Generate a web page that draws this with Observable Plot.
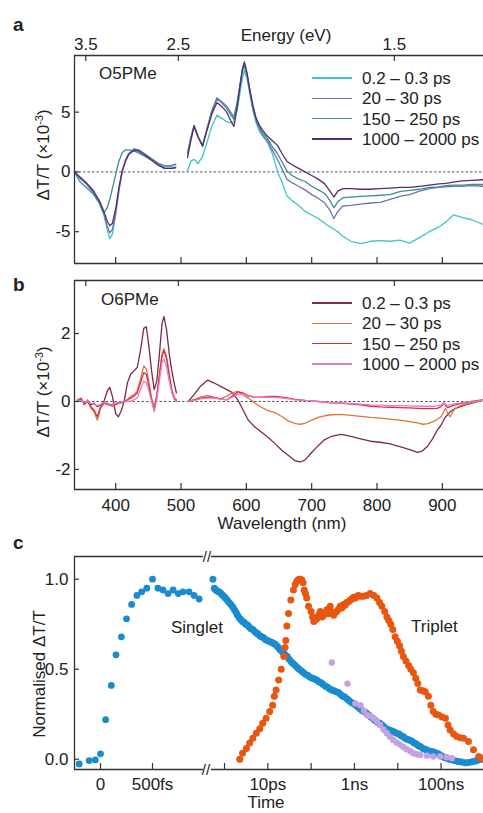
<!DOCTYPE html>
<html><head><meta charset="utf-8">
<script src="https://cdn.jsdelivr.net/npm/d3@7"></script>
<script src="https://cdn.jsdelivr.net/npm/@observablehq/plot@0.6"></script>
<style>
html,body{margin:0;padding:0;background:#fff;}
#root{position:relative;width:483px;height:813px;overflow:hidden;font-family:"Liberation Sans",Arial,Helvetica,sans-serif;color:#222;}
.abs{position:absolute;white-space:nowrap;line-height:1;}
.plot{position:absolute;}
</style></head><body><div id="root"></div>
<script>
// ---------------- DATA ----------------
const hc = 1239.84;
const energyTicks = [3.5, 2.5, 1.5];
const waveTicks = [400, 500, 600, 700, 800, 900];
const yTicksA = [-5, 0, 5];
const yTicksB = [-2, 0, 2];
const yTicksC = [0, 0.5, 1];
const fsTicks = [0, 500];
const fsTickLabels = ["0", "500fs"];
const logTicks = [1, 10, 100, 1000, 10000, 100000];
const logLabelTicks = [10, 1000, 100000];
const logTickLabels = ["10ps", "1ns", "100ns"];

// Panel a (O5PMe)
const seriesA = ["0.2 – 0.3 ps", "20 – 30 ps", "150 – 250 ps", "1000 – 2000 ps"];
const colorsA = ["#3fc6c6", "#6b74b4", "#3d8d94", "#5a2b6f"];
const waveA = [337,345,355,365,375,382,387,391,395,400,405,410,415,420,428,435,445,455,465,475,485,492,
  500,
  510,515,520,526,533,540,547,555,562,570,576,581,586,590,594,597,601,605,610,615,620,625,632,640,648,655,662,670,680,690,700,710,720,728,734,740,748,760,775,790,805,820,835,850,865,880,895,905,917,930,945,963];
const a_02ps = [0,-0.5,-1.0,-1.7,-2.6,-3.6,-4.8,-5.6,-5.2,-3.6,-1.6,0.0,0.9,1.5,1.95,1.85,1.5,1.1,0.7,0.45,0.45,0.6,
  null,
  0.1,0.9,1.05,0.7,1.3,2.5,3.8,4.75,4.5,4.2,4.1,4.2,5.2,6.5,7.8,8.5,7.8,6.6,5.2,4.1,3.4,3.0,2.5,1.5,0.0,-0.9,-2.0,-2.4,-2.8,-3.3,-3.6,-3.9,-4.3,-4.6,-4.8,-5.0,-5.4,-5.8,-6.0,-5.8,-5.75,-5.8,-5.7,-5.95,-5.5,-5.0,-4.6,-4.2,-3.6,-3.8,-4.0,-4.4];
const a_20ps = [0,-0.5,-1.0,-1.6,-2.5,-3.5,-4.5,-5.1,-4.8,-3.4,-1.5,0.05,1.0,1.55,1.9,1.85,1.5,1.1,0.75,0.5,0.55,0.65,
  null,
  1.5,2.8,3.9,3.0,2.1,3.6,5.1,6.2,5.9,5.5,5.0,4.6,5.8,7.2,8.6,9.1,8.2,6.9,5.3,4.3,3.6,3.1,2.6,1.8,1.0,0.2,-0.6,-0.9,-1.2,-1.5,-1.9,-2.2,-2.6,-3.2,-3.9,-3.3,-2.85,-2.8,-2.7,-2.6,-2.55,-2.3,-2.05,-1.9,-1.6,-1.4,-1.3,-1.25,-1.2,-1.2,-1.15,-1.2];
const a_150ps = [0,-0.8,-1.3,-1.8,-2.6,-3.4,-3.0,-2.3,-1.4,-0.2,0.9,1.6,1.85,1.85,1.75,1.6,1.3,0.95,0.55,0.3,0.3,0.4,
  null,
  1.6,2.9,3.9,3.0,2.2,3.7,5.0,6.1,5.8,5.3,4.8,4.4,5.8,7.1,8.4,8.9,8.1,6.9,5.3,4.4,3.8,3.3,2.8,2.1,1.5,0.8,0.1,-0.3,-0.6,-0.8,-1.2,-1.5,-1.8,-2.4,-3.0,-2.5,-2.15,-2.1,-2.05,-2.0,-1.95,-1.9,-1.65,-1.55,-1.45,-1.3,-1.25,-1.15,-1.1,-1.1,-1.05,-1.05];
const a_1000ps = [0,-0.4,-0.9,-1.5,-2.4,-3.3,-4.1,-4.5,-4.3,-3.1,-1.3,0.1,0.9,1.45,1.8,1.75,1.4,1.0,0.6,0.3,0.3,0.35,
  null,
  1.2,2.6,3.8,2.9,2.2,3.5,4.8,5.8,5.5,5.0,4.3,3.8,5.4,7.1,8.6,9.2,8.3,7.0,5.6,4.5,3.9,3.5,3.0,2.6,2.2,1.5,0.9,0.6,0.3,0.0,-0.3,-0.6,-1.0,-1.6,-2.1,-1.6,-1.4,-1.4,-1.45,-1.45,-1.4,-1.35,-1.3,-1.3,-1.2,-1.1,-1.0,-0.95,-0.85,-0.75,-0.7,-0.65];

// Panel b (O6PMe)
const seriesB = ["0.2 – 0.3 ps", "20 – 30 ps", "150 – 250 ps", "1000 – 2000 ps"];
const colorsB = ["#7c2a4c", "#d9773a", "#e22c3d", "#e47ccc"];
const waveB = [341,347,352,357,362,367,372,377,382,387,391,395,400,404,408,413,418,423,428,433,438,443,447,451,455,459,463,467,471,474,478,482,486,490,493,
  502,
  511,520,530,541,550,560,570,578,587,595,603,613,623,633,644,655,665,675,683,690,700,710,720,730,745,760,775,790,805,820,835,850,862,870,878,885,892,898,902,905,908,912,916,920,928,935,945,955,963];
const b_02ps = [0,0.05,-0.05,0.0,-0.1,-0.05,-0.15,-0.1,0.0,0.3,0.42,0.15,-0.35,-0.45,-0.3,0.0,0.55,0.8,0.9,1.0,1.5,2.15,2.2,1.6,0.9,0.35,0.6,1.4,2.3,2.5,2.1,1.4,0.9,0.5,0.25,
  null,
  0,0.2,0.45,0.63,0.55,0.45,0.35,0.27,0.05,-0.25,-0.55,-0.75,-0.9,-1.05,-1.24,-1.45,-1.6,-1.75,-1.78,-1.72,-1.5,-1.3,-1.12,-1.03,-0.97,-1.03,-1.1,-1.17,-1.2,-1.25,-1.33,-1.42,-1.5,-1.45,-1.3,-1.1,-0.85,-0.7,-0.55,-0.45,-0.4,-0.3,-0.25,-0.2,-0.15,-0.1,-0.05,0.0,0.05];
const b_20ps = [0.05,0.1,-0.1,0.05,-0.2,-0.3,-0.55,-0.2,-0.05,-0.1,-0.1,-0.15,-0.1,-0.05,-0.05,0.0,0.05,0.15,0.2,0.3,0.65,1.05,0.95,0.55,0.1,-0.15,0.2,0.8,1.4,1.55,1.3,0.8,0.35,0.1,0.05,
  null,
  0,0.05,0.13,0.18,0.12,0.08,0.15,0.25,0.3,0.2,0.1,-0.05,-0.17,-0.27,-0.33,-0.45,-0.58,-0.65,-0.67,-0.64,-0.55,-0.47,-0.42,-0.39,-0.38,-0.41,-0.44,-0.47,-0.49,-0.52,-0.55,-0.59,-0.63,-0.67,-0.65,-0.6,-0.53,-0.45,-0.3,-0.2,-0.35,-0.45,-0.3,-0.2,-0.12,-0.08,-0.03,0.0,0.05];
const b_150ps = [0.0,0.08,-0.08,0.0,-0.15,-0.25,-0.45,-0.15,-0.05,-0.05,-0.1,-0.1,-0.08,-0.05,-0.03,0.0,0.05,0.1,0.15,0.25,0.55,0.85,0.8,0.45,0.05,-0.25,0.15,0.75,1.35,1.5,1.25,0.75,0.3,0.08,0.03,
  null,
  0,0.05,0.1,0.13,0.12,0.08,0.05,0.15,0.28,0.25,0.17,0.13,0.13,0.15,0.15,0.13,0.1,0.06,0.05,0.03,0.02,0.0,-0.02,-0.04,-0.05,-0.08,-0.1,-0.14,-0.16,-0.17,-0.18,-0.19,-0.2,-0.21,-0.21,-0.21,-0.2,-0.15,-0.05,-0.12,-0.18,-0.15,-0.12,-0.1,-0.06,-0.03,0.0,0.03,0.05];
const b_1000ps = [0.0,0.03,-0.03,0.0,-0.05,-0.08,-0.12,-0.08,-0.03,-0.05,-0.08,-0.08,-0.05,-0.03,-0.02,0.0,0.0,0.02,0.05,0.1,0.35,0.6,0.55,0.3,0.0,-0.3,0.05,0.6,1.15,1.25,1.0,0.6,0.25,0.05,0.0,
  null,
  0,0.03,0.08,0.1,0.1,0.07,0.05,0.12,0.22,0.2,0.15,0.12,0.12,0.13,0.12,0.1,0.08,0.05,0.04,0.03,0.02,0.0,-0.02,-0.03,-0.04,-0.06,-0.08,-0.1,-0.11,-0.12,-0.12,-0.13,-0.14,-0.14,-0.14,-0.14,-0.13,-0.1,-0.04,-0.08,-0.12,-0.1,-0.08,-0.06,-0.04,-0.02,0.0,0.02,0.04];

// Panel c kinetics
const singletFs  = [-205,-110,-50,0,49,104,149,201,250,299,350,396,445,500,552,601,649,698,747,792,851,899,948];
const singletFsV = [-0.026,-0.008,-0.004,0.03,0.22,0.41,0.58,0.68,0.78,0.86,0.91,0.93,0.95,1.0,0.95,0.94,0.92,0.94,0.92,0.93,0.93,0.91,0.89];
const singletPs = [0.54,0.58,0.63,0.68,0.74,0.8,0.87,0.95,1.05,1.15,1.27,1.4,1.55,1.7,1.85,2.0,2.2,2.4,2.6,2.85,3.1,3.4,3.7,4.1,4.5,5.0,5.5,6.0,6.6,7.2,8.0,8.8,9.7,10.7,12,13,14.5,16,17.5,19,21,23,25,28,31,35,39,43,48,53,60,67,75,85,95,108,120,135,150,170,190,215,240,270,300,340,380,430,480,540,600,680,760,850,950,1070,1200,1350,1500,1700,1900,2150,2400,2700,3000,3400,3800,4300,4800,5400,6000,6800,7600,8500,9500,10700,12000,13500,15000,17000,19000,21500,24000,27000,30000,34000,38000,43000,48000,54000,60000,68000,76000,85000,95000,107000,120000,135000,155000,180000,210000,250000,300000,360000,430000,520000,620000,740000,870000];
const singletPsV = [1.0,0.95,0.94,0.935,0.93,0.925,0.915,0.905,0.895,0.885,0.87,0.86,0.845,0.83,0.815,0.8,0.785,0.775,0.765,0.76,0.75,0.745,0.735,0.725,0.72,0.71,0.7,0.695,0.685,0.68,0.675,0.665,0.66,0.655,0.65,0.645,0.64,0.63,0.62,0.61,0.6,0.59,0.58,0.57,0.555,0.54,0.53,0.52,0.51,0.5,0.49,0.48,0.47,0.465,0.455,0.45,0.445,0.44,0.43,0.425,0.415,0.405,0.4,0.39,0.385,0.38,0.375,0.37,0.36,0.35,0.345,0.335,0.325,0.315,0.31,0.3,0.29,0.28,0.27,0.265,0.255,0.245,0.235,0.225,0.215,0.205,0.2,0.19,0.18,0.17,0.165,0.16,0.155,0.15,0.145,0.14,0.13,0.125,0.115,0.11,0.105,0.1,0.09,0.085,0.075,0.07,0.06,0.055,0.05,0.045,0.043,0.04,0.035,0.03,0.024,0.015,0.01,0.006,0.0,-0.004,-0.008,-0.013,-0.016,-0.02,-0.018,-0.014,-0.01,-0.004,0.0];
const tripletPs = [2.24,2.6,3.2,3.8,4.5,5.4,6.5,7.6,9.1,11,12.9,14.1,15.5,17.8,20.4,23.4,25,26,27.5,30,34,39,43,47,52,56,61,65,69,74,79,87,100,108,115,125,135,148,162,178,195,212,230,250,275,300,330,360,390,430,470,510,560,610,660,730,800,870,950,1050,1150,1230,1400,1620,1900,2300,2800,3300,3800,4300,5000,5600,6200,6900,7700,8700,9800,11000,12200,13500,15500,17800,20000,23000,26000,29000,33000,38000,43000,51000,58000,66000,76000,87000,105000,126000,145000,162000,195000,230000,280000,330000,430000,560000,740000,870000];
const tripletV = [0.0,0.033,0.06,0.09,0.117,0.144,0.17,0.2,0.228,0.265,0.3,0.35,0.385,0.44,0.5,0.57,0.62,0.66,0.74,0.81,0.885,0.94,0.97,0.99,1.0,1.0,0.995,0.98,0.94,0.92,0.895,0.85,0.82,0.79,0.765,0.775,0.78,0.8,0.82,0.79,0.8,0.815,0.83,0.81,0.85,0.82,0.8,0.815,0.82,0.835,0.85,0.84,0.86,0.855,0.87,0.875,0.885,0.89,0.9,0.895,0.905,0.91,0.905,0.905,0.91,0.92,0.91,0.895,0.87,0.85,0.82,0.79,0.77,0.75,0.72,0.68,0.655,0.63,0.6,0.57,0.545,0.52,0.5,0.48,0.45,0.42,0.385,0.38,0.375,0.35,0.3,0.265,0.25,0.246,0.235,0.228,0.19,0.163,0.14,0.126,0.12,0.117,0.098,0.052,0.015,0.006];
const lavenderPs = [300,690,1050,1380,1660,1950,2300,2750,3300,3900,4700,5600,6600,7900,9500,11500,13500,16000,19500,23000,27500,33000,47000,66000,95000,135000,178000];
const lavenderV = [0.537,0.42,0.31,0.3,0.27,0.246,0.24,0.228,0.21,0.19,0.165,0.144,0.125,0.107,0.092,0.08,0.068,0.056,0.045,0.033,0.028,0.024,0.019,0.015,0.015,0.011,0.006];

// ---------------- BUILD ----------------
const root = document.getElementById("root");
const axisColor = "#333";
const font = '"Liberation Sans", Arial, Helvetica, sans-serif';
const baseStyle = {fontFamily: font, fontSize: "17px", color: "#222", background: "transparent", overflow: "visible"};

function buildTable(wave, names, vals) {
  const rows = [];
  names.forEach((name, i) => wave.forEach((w, j) => rows.push({wl: w, v: vals[i][j], s: name})));
  return rows;
}
function zip(xs, ys) { return xs.map((x, i) => ({t: x, v: ys[i]})); }

function place(el, left, top) {
  el.classList.add("plot");
  el.style.left = left + "px"; el.style.top = top + "px";
  root.appendChild(el);
}
function addText(html, x, y, o = {}) {
  const d = document.createElement("div");
  d.className = "abs";
  d.innerHTML = html;
  d.style.fontSize = (o.size || 17) + "px";
  d.style.fontWeight = o.weight || "normal";
  d.style.left = x + "px"; d.style.top = y + "px";
  const tx = o.align === "center" ? "-50%" : o.align === "right" ? "-100%" : "0";
  d.style.transform = o.rotate ? "translate(-50%,-50%) rotate(-90deg)" : `translate(${tx},-50%)`;
  root.appendChild(d);
}
function addLegend(names, colors, x0, y0, dy) {
  names.forEach((n, i) => {
    const ln = document.createElement("div");
    ln.style.cssText = `position:absolute;left:${x0}px;top:${y0 + i*dy - 0.8}px;width:40px;height:1.7px;background:${colors[i]};`;
    root.appendChild(ln);
    addText(n, x0 + 50, y0 + i*dy);
  });
}

// spectral panel factory
function spectrumPlot({table, names, colors, yDomain, yTicks, top, mTop, innerH, mBottom, showWaveLabels, showEnergyLabels}) {
  const xDomain = [337, 963];
  const innerW = 483 - 74;
  const marks = [
    Plot.ruleY([0], {stroke: "#444", strokeWidth: 0.9, strokeDasharray: "2.5,2"}),
    Plot.line(table, {x: "wl", y: "v", z: "s", stroke: "s", strokeWidth: 1.3}),
    Plot.axisY(yTicks, {tickSize: 0, tickPadding: 4, tickFormat: d => String(d), fontSize: 17}),
    Plot.tickY(yTicks, {y: d => d, insetRight: innerW - 5, stroke: axisColor, strokeWidth: 1.2}),
    Plot.tickX(waveTicks, {x: d => d, insetTop: innerH - 6, stroke: axisColor, strokeWidth: 1.2}),
    Plot.tickX(energyTicks.map(e => hc / e), {x: d => d, insetBottom: innerH - 6, stroke: axisColor, strokeWidth: 1.2}),
    Plot.ruleX([xDomain[0]], {stroke: axisColor, strokeWidth: 1.3}),
    Plot.ruleY([yDomain[0]], {stroke: axisColor, strokeWidth: 1.3}),
    Plot.ruleY([yDomain[1]], {stroke: axisColor, strokeWidth: 1.3})
  ];
  if (showEnergyLabels) marks.push(Plot.axisX(energyTicks.map(e => hc / e), {anchor: "top", tickSize: 0, tickPadding: 6, tickFormat: w => (hc / w).toFixed(1), fontSize: 17}));
  else if (showWaveLabels) marks.push(Plot.axisX(waveTicks, {anchor: "bottom", tickSize: 0, tickPadding: 9, tickFormat: d => String(d), fontSize: 17}));
  const p = Plot.plot({
    width: 483, height: mTop + innerH + mBottom,
    marginLeft: 74, marginRight: 0, marginTop: mTop, marginBottom: mBottom,
    x: {domain: xDomain, label: null},
    y: {domain: yDomain, label: null},
    color: {domain: names, range: colors},
    style: baseStyle,
    marks
  });
  place(p, 0, top);
}

spectrumPlot({table: buildTable(waveA, seriesA, [a_02ps, a_20ps, a_150ps, a_1000ps]), names: seriesA, colors: colorsA,
  yDomain: [-7.66, 9.74], yTicks: yTicksA, top: 0, mTop: 55, innerH: 208, mBottom: 12, showEnergyLabels: true});
spectrumPlot({table: buildTable(waveB, seriesB, [b_02ps, b_20ps, b_150ps, b_1000ps]), names: seriesB, colors: colorsB,
  yDomain: [-2.59, 3.56], yTicks: yTicksB, top: 265, mTop: 15, innerH: 209, mBottom: 41, showWaveLabels: true});

// panel c
const yDomC = [-0.057, 1.126];
const innerHC = 213;
const singletColor = "#1a8bcf", tripletColor = "#e8560f", lavColor = "#c4a2e0";
const cLeft = Plot.plot({
  width: 203, height: 16 + innerHC + 31, marginLeft: 74, marginRight: 0, marginTop: 16, marginBottom: 31,
  x: {domain: [-250, 990], label: null},
  y: {domain: yDomC, label: null},
  style: baseStyle,
  marks: [
    Plot.dot(zip(singletFs, singletFsV), {x: "t", y: "v", r: 3.4, fill: singletColor}),
    Plot.axisY(yTicksC, {tickSize: 0, tickPadding: 6, tickFormat: d => d.toFixed(1), fontSize: 17}),
    Plot.tickY(yTicksC, {y: d => d, insetRight: 129 - 5, stroke: axisColor, strokeWidth: 1.2}),
    Plot.axisX(fsTicks, {tickSize: 0, tickPadding: 8, tickFormat: d => fsTickLabels[fsTicks.indexOf(d)], fontSize: 17}),
    Plot.tickX(fsTicks, {x: d => d, insetTop: innerHC - 6, stroke: axisColor, strokeWidth: 1.2}),
    Plot.ruleX([-250], {stroke: axisColor, strokeWidth: 1.3}),
    Plot.ruleY([yDomC[0]], {stroke: axisColor, strokeWidth: 1.3}),
    Plot.ruleY([yDomC[1]], {stroke: axisColor, strokeWidth: 1.3})
  ]
});
place(cLeft, 0, 540);

const cRight = Plot.plot({
  width: 272, height: 16 + innerHC + 31, marginLeft: 0, marginRight: 0, marginTop: 16, marginBottom: 31,
  x: {type: "log", domain: [0.5, 955000], label: null},
  y: {domain: yDomC, label: null, axis: null},
  style: baseStyle,
  marks: [
    Plot.dot(zip(singletPs, singletPsV), {x: "t", y: "v", r: 3.5, fill: singletColor}),
    Plot.dot(zip(tripletPs, tripletV), {x: "t", y: "v", r: 3.5, fill: tripletColor}),
    Plot.dot(zip(lavenderPs, lavenderV), {x: "t", y: "v", r: 3.2, fill: lavColor}),
    Plot.axisX(logLabelTicks, {tickSize: 0, tickPadding: 8, tickFormat: d => logTickLabels[logLabelTicks.indexOf(d)], fontSize: 17}),
    Plot.tickX(logTicks, {x: d => d, insetTop: innerHC - 6, stroke: axisColor, strokeWidth: 1.2}),
    Plot.ruleY([yDomC[0]], {stroke: axisColor, strokeWidth: 1.3}),
    Plot.ruleY([yDomC[1]], {stroke: axisColor, strokeWidth: 1.3})
  ]
});
place(cRight, 211, 540);

// ---------------- TEXT ----------------
addText("a", 13, 24, {weight: "bold", size: 19});
addText("b", 13, 284, {weight: "bold", size: 19});
addText("c", 13, 542, {weight: "bold", size: 19});
addText("Energy (eV)", 286, 35, {align: "center"});
addText("O5PMe", 99, 73);
addText("O6PMe", 101, 299);
addText("ΔT/T (×10<sup style='font-size:11px'>-3</sup>)", 43, 155, {rotate: true});
addText("ΔT/T (×10<sup style='font-size:11px'>-3</sup>)", 43, 392, {rotate: true});
addText("Normalised ΔT/T", 39, 674, {rotate: true});
addText("Wavelength (nm)", 282, 523, {align: "center"});
addText("Time", 266, 802, {align: "center"});
addText("Singlet", 171, 627);
addText("Triplet", 411, 626);
addText("//", 207, 556, {align: "center", size: 15});
addText("//", 206, 769, {align: "center", size: 15});
addLegend(seriesA, colorsA, 312, 78, 20.3);
addLegend(seriesB, colorsB, 312, 303, 20.3);
</script></body></html>
